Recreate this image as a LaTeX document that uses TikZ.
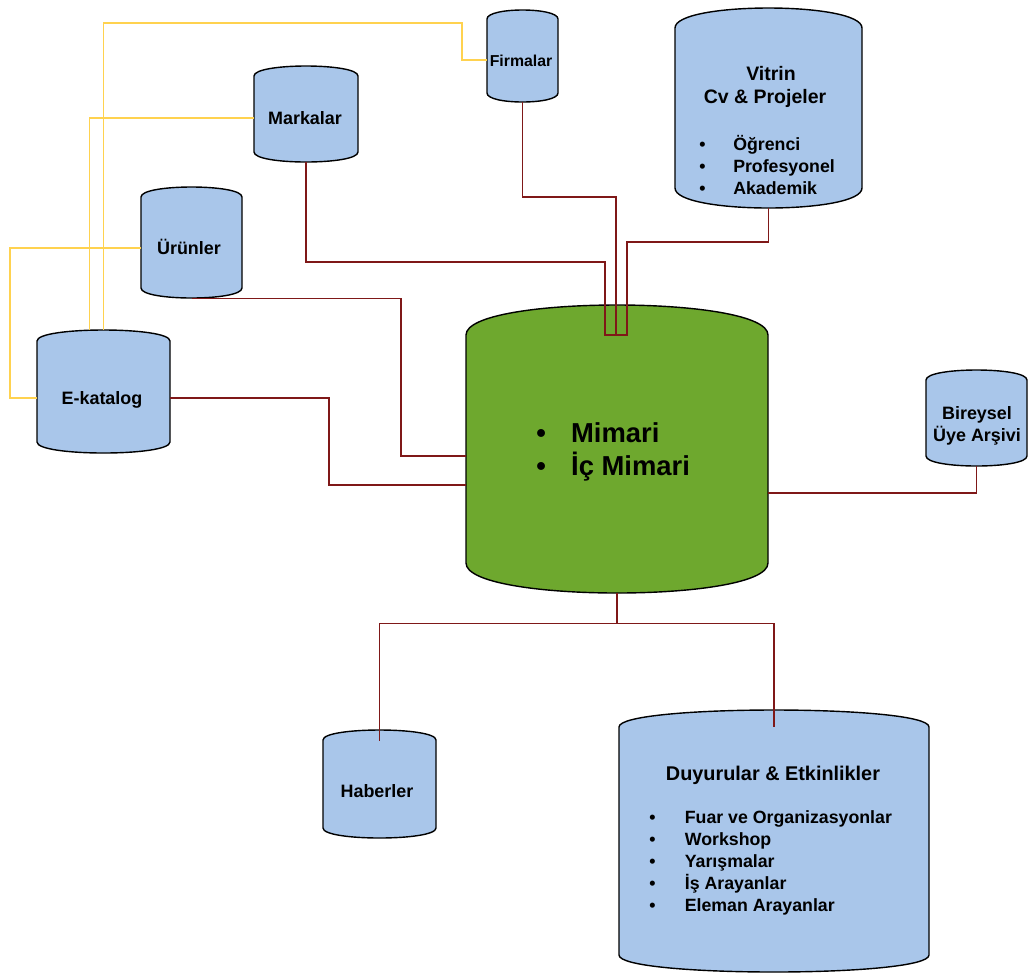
\documentclass[tikz,border=0pt]{standalone}
\usepackage{fontspec}
\setmainfont{Liberation Sans}
\usetikzlibrary{calc,fit}

\definecolor{canblue}{HTML}{A9C6EA}
\definecolor{cangreen}{HTML}{6EA82E}
\definecolor{linkred}{HTML}{7F1818}
\definecolor{linkyellow}{HTML}{FFD24F}

\tikzset{
  canline/.style={draw=black, line width=0.8pt},
  link/.style={draw=linkred, line width=0.6pt},
  ylink/.style={draw=linkyellow, line width=0.6pt},
  lbl/.style={font=\bfseries\fontsize{10.2}{12.5}\selectfont, inner sep=0pt, anchor=base},
  item/.style={font=\bfseries\fontsize{10.1}{12.5}\selectfont, inner sep=0pt, anchor=base west},
}

% can shaped store: name, x1, y1, x2, y2, cap, colour
\newcommand\dbcan[7]{%
  \path[canline, fill=#7] (#2,#3+#6) .. controls (#2,#3-#6/3) and (#4,#3-#6/3) .. (#4,#3+#6)
    -- (#4,#5-#6) .. controls (#4,#5+#6/3) and (#2,#5+#6/3) .. (#2,#5-#6) -- cycle;
  \node[fit={(#2,#3) (#4,#5)}, inner sep=0pt] (#1) {};
}
\newcommand\blt[1]{\makebox[#1][l]{\textbullet}}

\begin{document}
\begin{tikzpicture}[x=0.02cm, y=-0.02cm]
  \useasboundingbox (0,0) rectangle (1028,975);

  % stores
  \dbcan{firm}{487}{10}{558}{102}{9}{canblue}
  \dbcan{mark}{254}{66}{358}{162}{10}{canblue}
  \dbcan{urun}{141}{187}{242}{298}{10}{canblue}
  \dbcan{ekat}{37}{330}{170}{453}{11}{canblue}
  \dbcan{vitr}{675}{8}{862}{208}{20}{canblue}
  \dbcan{main}{466}{305}{768}{593}{30}{cangreen}
  \dbcan{bire}{926}{370}{1027}{466}{10}{canblue}
  \dbcan{habe}{323}{730}{436}{838}{10}{canblue}
  \dbcan{duyu}{619}{710}{929}{972}{17}{canblue}

  % links into the main store
  \coordinate (hub) at (616,335);
  \draw[link] (firm.south) |- (616,197) -- (hub);
  \draw[link] (mark.south) |- (605,262) -- (605,335) -- (hub);
  \draw[link] (vitr.south) |- (627,242) -- (627,335) -- (hub);
  \draw[link] (urun.south) -| (401,456) -- ($(main.west)+(0,7)$);
  \draw[link] ($(ekat.east)+(0,6.5)$) -| (329,485) -- ($(main.west)+(0,36)$);
  \draw[link] (bire.south) |- ($(main.east)+(0,44)$);
  \draw[link] (main.south) -- ++(0,30) coordinate (split);
  \draw[link] (split) -| ($(habe.north)+(0,11)$);
  \draw[link] (split) -| ($(duyu.north)+(0,17)$);

  % e-katalog links
  \draw[ylink] (ekat.north) |- (462,23) |- ($(firm.west)+(0,4)$);
  \draw[ylink] ($(ekat.north)+(-14,0)$) |- ($(mark.west)+(0,4)$);
  \draw[ylink] ($(ekat.west)+(0,6.5)$) -| (10,248) -- ($(urun.west)+(0,5.5)$);

  % labels
  \node[lbl, font=\bfseries\fontsize{9}{11}\selectfont] (firmlbl) at (521,66) {Firmalar};
  \node[lbl] (marklbl) at (305,124) {Markalar};
  \node[lbl] (urunlbl) at (189,254) {Ürünler};
  \node[lbl] (ekatlbl) at (102,404) {E-katalog};
  \node[lbl] (habelbl) at (377,797) {Haberler};
  \node[lbl] (bire1) at (977,419) {Bireysel};
  \node[lbl] (bire2) at (977,441) {Üye Arşivi};
  \node[lbl, font=\bfseries\fontsize{11.1}{13}\selectfont] (vitr1) at (771,80) {Vitrin};
  \node[lbl, font=\bfseries\fontsize{11.1}{13}\selectfont] (vitr2) at (765,103) {Cv \& Projeler};
  \node[lbl, font=\bfseries\fontsize{11.3}{13}\selectfont] (duyu0) at (773,780) {Duyurular \& Etkinlikler};

  \foreach \t [count=\i] in {Öğrenci, Profesyonel, Akademik}
    \node[item] (vitl\i) at (699,128+22*\i) {\blt{19.3pt}\t};
  \foreach \t [count=\i] in {Fuar ve Organizasyonlar, Workshop, Yarışmalar, İş Arayanlar, Eleman Arayanlar}
    \node[item] (duyl\i) at (649,801+22*\i) {\blt{20.2pt}\t};
  \foreach \t [count=\i] in {Mimari, İç Mimari}
    \node[item, font=\bfseries\fontsize{15.6}{19}\selectfont] (mainl\i) at (536,409+33*\i) {\blt{19.8pt}\t};
\end{tikzpicture}
\end{document}
